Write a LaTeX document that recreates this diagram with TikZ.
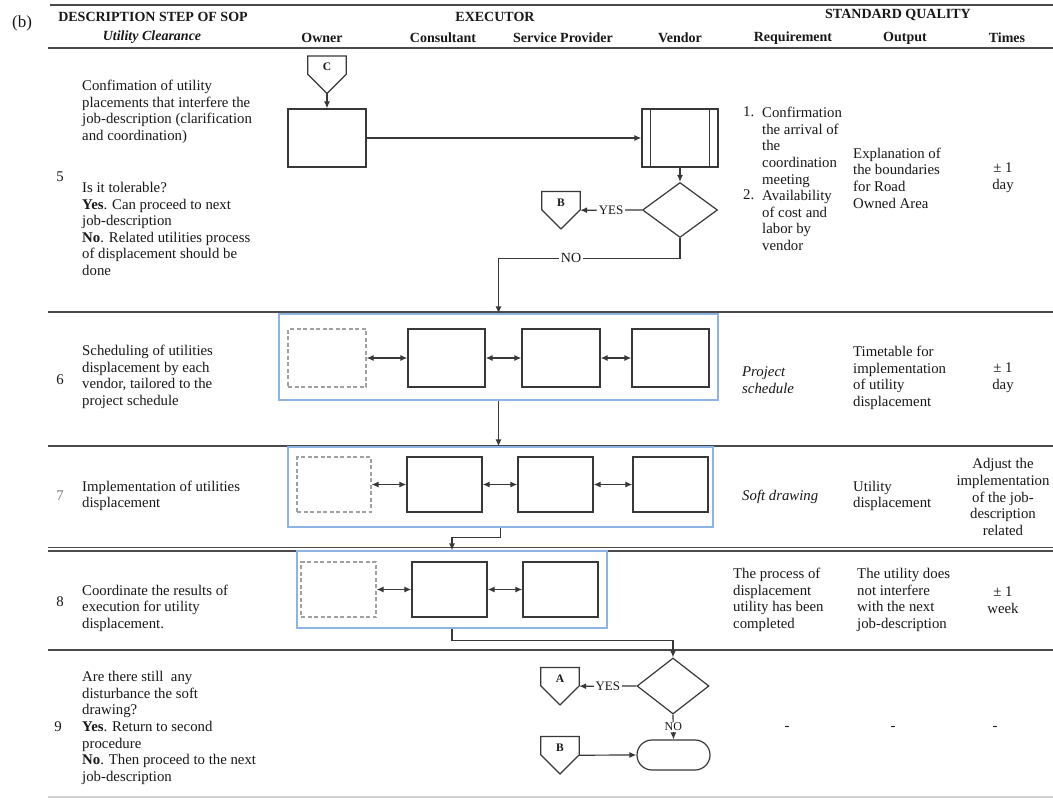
\documentclass[tikz,border=0pt]{standalone}
\usepackage{fontspec}
\setmainfont{Liberation Serif}
\usetikzlibrary{arrows.meta,shapes.geometric,shapes.misc,calc}
\definecolor{txtc}{HTML}{181818}
\definecolor{linec}{HTML}{383838}
\definecolor{dashc}{HTML}{A0A0A0}
\definecolor{framec}{HTML}{8DB4E2}
\definecolor{rulec}{HTML}{4A4A4A}
\definecolor{rulelt}{HTML}{D0D0D0}
\definecolor{numgray}{HTML}{7A7A7A}
\newcommand\bodyfont{\fontsize{14.8pt}{16.6pt}\selectfont}
\newcommand\headfont{\fontsize{14pt}{16pt}\selectfont\bfseries}
\newcommand\offpage[4]{%
  \node[opbox, anchor=north] (#1) at (#2,#3) {};
  \draw[shapeline] (#1.north west) -- (#1.north east) -- ([yshift=19pt]#1.south east) -- (#1.south) -- ([yshift=19pt]#1.south west) -- cycle;
  \node[oplabel] (#1-t) at ([yshift=-11pt]#1.north) {#4};
}
\tikzset{
  shapeline/.style={draw=linec, line width=1.2pt, line join=miter},
  opbox/.style={draw=none, minimum width=38pt, minimum height=37pt, inner sep=0pt},
  oplabel/.style={font=\fontsize{11.5pt}{12pt}\selectfont\bfseries, text=txtc, inner sep=0pt},
  procbox/.style={draw=linec, line width=1.3pt, inner sep=0pt},
  dashbox/.style={draw=dashc, dash pattern=on 4pt off 2.5pt, line width=1.2pt, inner sep=0pt},
  framebox/.style={draw=framec, line width=1.2pt, inner sep=0pt},
  decision/.style={diamond, draw=linec, line width=1.2pt, inner sep=0pt},
  terminal/.style={rounded rectangle, draw=linec, line width=1.2pt, inner sep=0pt},
  tip/.style={},
  arr/.style={draw=linec, line width=1.2pt, -{Latex[length=7pt,width=6pt]}},
  darr/.style={draw=linec, line width=1.2pt, {Latex[length=7pt,width=6pt]}-{Latex[length=7pt,width=6pt]}},
  plain/.style={draw=linec, line width=1.2pt},
  body/.style={font=\bodyfont, text=txtc, inner sep=0pt, align=left, anchor=west},
  bodyc/.style={font=\bodyfont, text=txtc, inner sep=0pt, align=center},
  head/.style={font=\headfont, text=txtc, inner sep=0pt},
  rule/.style={draw=rulec, line width=1.5pt},
  lbl/.style={font=\fontsize{13pt}{14pt}\selectfont, text=txtc, fill=white, inner sep=1.5pt},
}
\begin{document}
\begin{tikzpicture}[x=1pt,y=-1pt]
\useasboundingbox (0,0) rectangle (1053,800);
\fill[white] (0,0) rectangle (1053,800);

% ---------- table rules ----------
\draw[rule, line width=2pt] (50,5) -- (1053,5);
\draw[rule] (48,48) -- (1053,48);
\draw[rule] (48,312) -- (1053,312);
\draw[rule] (48,446) -- (1053,446);
\draw[rule, line width=1.2pt] (48,547.5) -- (1053,547.5);
\draw[rule, line width=1.2pt] (48,551) -- (1053,551);
\draw[rule] (48,650) -- (1053,650);
\draw[draw=rulelt, line width=1.2pt] (48,797) -- (1053,797);

% ---------- header ----------
\node[font=\fontsize{17pt}{18pt}\selectfont, text=txtc, inner sep=0pt] (lb) at (22,23) {(b)};
\node[head] (h1) at (153,17) {DESCRIPTION STEP OF SOP};
\node[head, font=\headfont\itshape] (h2) at (152,37) {Utility Clearance};
\node[head] (h3) at (495,17) {EXECUTOR};
\node[head] (h4) at (898,15) {STANDARD QUALITY};
\node[head] (c1) at (322,38) {Owner};
\node[head] (c2) at (443,38) {Consultant};
\node[head] (c3) at (563,38) {Service Provider};
\node[head] (c4) at (680,38) {Vendor};
\node[head] (c5) at (793,38) {Requirement};
\node[head] (c6) at (905,38) {Output};
\node[head] (c7) at (1007,38) {Times};

% ---------- row 5 ----------
\node[bodyc] (n5) at (60,177) {5};
\node[body] (t5a) at (82,112) {Confimation of utility\\placements that interfere the\\job-description (clarification\\and coordination)};
\node[body] (t5b) at (82,229) {Is it tolerable?\\\textbf{Yes}. Can proceed to next\\job-description\\\textbf{No}. Related utilities process\\of displacement should be\\done};
\node[body] (r5n1) at (743,112) {1.};
\node[body] (r5n2) at (743,195) {2.};
\node[body] (r5) at (762,179) {Confirmation\\the arrival of\\the\\coordination\\meeting\\Availability\\of cost and\\labor by\\vendor};
\node[body] (o5) at (853,178) {Explanation of\\the boundaries\\for Road\\Owned Area};
\node[bodyc] (m5) at (1003,178) {± 1\\day};

\offpage{C}{327}{56}{C}
\node[procbox, minimum width=78pt, minimum height=58pt] (p1) at (327,138) {};
\node[procbox, minimum width=76pt, minimum height=58pt] (pp) at (680,138) {};
\draw[plain] ([xshift=9pt]pp.north west) -- ([xshift=9pt]pp.south west);
\draw[plain] ([xshift=-9pt]pp.north east) -- ([xshift=-9pt]pp.south east);
\node[decision, minimum width=75pt, minimum height=55pt] (d1) at (680,210) {};
\offpage{B1}{561}{191.5}{B}

% ---------- row 6 ----------
\node[bodyc] (n6) at (60,380) {6};
\node[body] (t6) at (82,377) {Scheduling of utilities\\displacement by each\\vendor, tailored to the\\project schedule};
\node[body, font=\bodyfont\itshape] (r6) at (742,380) {Project\\schedule};
\node[body] (o6) at (853,378) {Timetable for\\implementation\\of utility\\displacement};
\node[bodyc] (m6) at (1003,378) {± 1\\day};

\node[framebox, minimum width=439pt, minimum height=86pt] (f6) at (498.5,357) {};
\node[dashbox, minimum width=78pt, minimum height=58pt] (d6) at (327,358) {};
\node[procbox, minimum width=77pt, minimum height=58pt] (b6a) at (446.5,358) {};
\node[procbox, minimum width=78pt, minimum height=58pt] (b6b) at (561,358) {};
\node[procbox, minimum width=77pt, minimum height=58pt] (b6c) at (670.5,358) {};

% ---------- row 7 ----------
\node[bodyc, text=numgray] (n7) at (60,496) {7};
\node[body] (t7) at (82,496) {Implementation of utilities\\displacement};
\node[body, font=\bodyfont\itshape] (r7) at (742,497) {Soft drawing};
\node[body] (o7) at (853,496) {Utility\\displacement};
\node[bodyc] (m7) at (1003,497) {Adjust the\\implementation\\of the job-\\description\\related};

\node[framebox, minimum width=425pt, minimum height=80pt] (f7) at (500.5,487) {};
\node[dashbox, minimum width=74pt, minimum height=55pt] (d7) at (334,484.5) {};
\node[procbox, minimum width=75pt, minimum height=55pt] (b7a) at (444.5,484.5) {};
\node[procbox, minimum width=75pt, minimum height=55pt] (b7b) at (555.5,484.5) {};
\node[procbox, minimum width=75pt, minimum height=55pt] (b7c) at (670.5,484.5) {};

% ---------- row 8 ----------
\node[bodyc] (n8) at (60,602) {8};
\node[body] (t8) at (82,608) {Coordinate the results of\\execution for utility\\displacement.};
\node[body] (r8) at (733,600) {The process of\\displacement\\utility has been\\completed};
\node[body] (o8) at (857,600) {The utility does\\not interfere\\with the next\\job-description};
\node[bodyc] (m8) at (1003,600) {± 1\\week};

\node[framebox, minimum width=310pt, minimum height=77pt] (f8) at (452,589.5) {};
\node[dashbox, minimum width=75pt, minimum height=55pt] (d8) at (338.5,589.5) {};
\node[procbox, minimum width=75pt, minimum height=55pt] (b8a) at (449.5,589.5) {};
\node[procbox, minimum width=75pt, minimum height=55pt] (b8b) at (560.5,589.5) {};

% ---------- row 9 ----------
\node[bodyc] (n9) at (58,727) {9};
\node[body] (t9) at (82,728) {Are there still~ any\\disturbance the soft\\drawing?\\\textbf{Yes}. Return to second\\procedure\\\textbf{No}. Then proceed to the next\\job-description};
\node[bodyc] (r9) at (787,728) {-};
\node[bodyc] (o9) at (893,728) {-};
\node[bodyc] (m9) at (995,728) {-};

\node[decision, minimum width=72pt, minimum height=56pt] (d9) at (673,686) {};
\offpage{A}{560}{667.5}{A}
\node[terminal, minimum width=73pt, minimum height=30pt] (term) at (673.5,755) {};
\offpage{B2}{560}{736.5}{B}

% ---------- connectors ----------
\draw[arr] (C.south) -- (p1.north);
\draw[arr] (p1.east) -- (pp.west);
\draw[arr] (pp.south) -- (d1.north);
\draw[arr] (d1.west) -- node[lbl]{YES} (B1.east);
\draw[arr] (d1.south) -- ++(0,20) -| node[lbl, pos=0.3, font=\fontsize{14pt}{15pt}\selectfont]{NO} (f6.north);

\draw[darr] (d6.east) -- (b6a.west);
\draw[darr] (b6a.east) -- (b6b.west);
\draw[darr] (b6b.east) -- (b6c.west);
\draw[arr] (f6.south) -- (f6.south |- f7.north);

\draw[darr] (d7.east) -- (b7a.west);
\draw[darr] (b7a.east) -- (b7b.west);
\draw[darr] (b7b.east) -- (b7c.west);
\draw[arr] (f7.south) -- ++(0,10) -| (f8.north);

\draw[darr] (d8.east) -- (b8a.west);
\draw[darr] (b8a.east) -- (b8b.west);
\draw[arr] (f8.south) -- ++(0,12) -| (d9.north);

\draw[arr] (d9.west) -- node[lbl]{YES} (A.east);
\draw[arr] (d9.south) -- node[lbl, font=\fontsize{12pt}{13pt}\selectfont, inner sep=0.5pt]{NO} (term.north);
\draw[arr] (B2.east) -- (term.west);
\end{tikzpicture}
\end{document}
